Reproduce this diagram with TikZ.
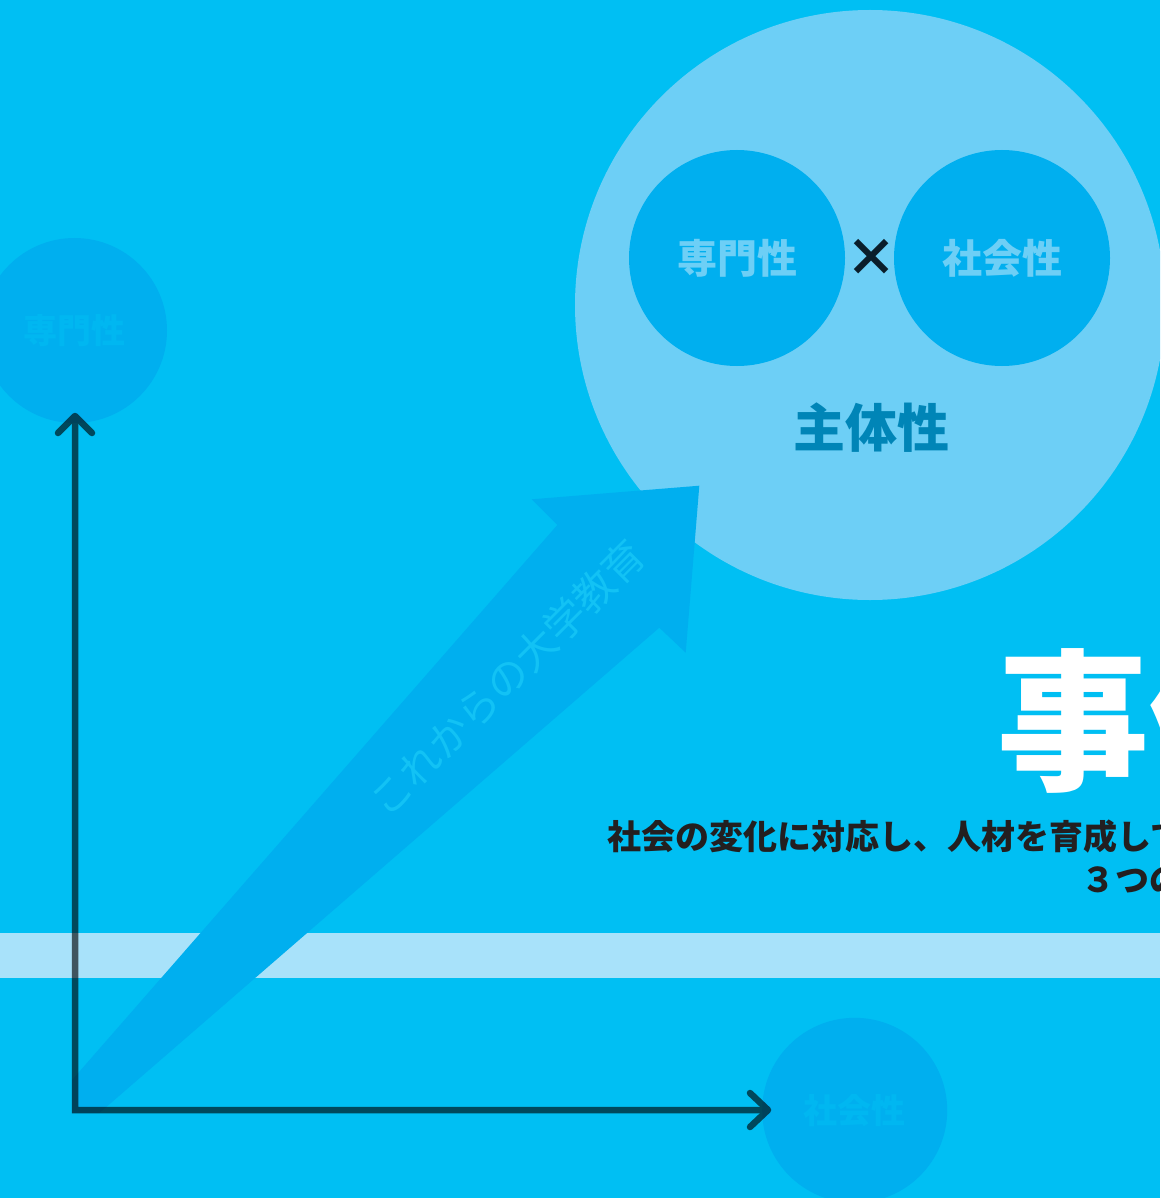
\documentclass[tikz,border=0pt]{standalone}
\usepackage{fontspec}
\newfontfamily\jp{Noto Sans CJK JP}
\definecolor{bgblue}{HTML}{00BFF3}
\definecolor{bigcirc}{HTML}{6DCFF6}
\definecolor{midblue}{HTML}{00AFEF}
\definecolor{fadetext}{HTML}{00B7F1}
\definecolor{arrowtext}{HTML}{12C2F5}
\definecolor{bandblue}{HTML}{A8E2FA}
\definecolor{mainteal}{HTML}{0085B7}
\definecolor{crossdark}{HTML}{0A1E2B}
\definecolor{subdark}{HTML}{231F20}
\begin{document}
\begin{tikzpicture}[x=1pt,y=-1pt,
  innercirc/.style={circle, fill=midblue, inner sep=0pt, minimum size=216pt,
    text=bigcirc, font=\jp\bfseries\fontsize{40}{46}\selectfont},
  fadecirc/.style={circle, fill=midblue, inner sep=0pt, minimum size=185pt,
    text=fadetext, font=\jp\bfseries\fontsize{34}{40}\selectfont},
  axisline/.style={draw=black, line width=6.5pt},
  chevron/.style={draw=black, line width=6.5pt, line cap=round, line join=round},
  subtext/.style={anchor=base west, inner sep=0pt, text=subdark,
    font=\jp\bfseries\fontsize{34}{40}\selectfont}]
\useasboundingbox (0,0) rectangle (1160,1198);
\clip (0,0) rectangle (1160,1198);
\fill[bgblue] (0,0) rectangle (1160,1198);
% big circle
\node (big) [circle, fill=bigcirc, inner sep=0pt, minimum size=590pt] at (870,305) {};
\node (sen) [innercirc] at (737,258) {専門性};
\node (sha) [innercirc] at (1002,258) {社会性};
\node (times) [text=crossdark, font=\jp\bfseries\fontsize{52}{60}\selectfont, inner sep=0pt] at (871,258) {×};
\node (shutai) [text=mainteal, font=\jp\bfseries\fontsize{52}{60}\selectfont, inner sep=0pt] at (871,428) {主体性};
% band
\fill[bandblue] (0,933) rectangle (1160,978);
% big arrow
\fill[midblue] (72,1080) -- (557.3,525) -- (531.7,499.3) -- (699.3,485.7)
  -- (685.7,652.7) -- (659.3,627.7) -- (99.4,1113) -- (72,1113) -- cycle;
\node (edu) [rotate=45, text=arrowtext, font=\jp\fontsize{41}{46}\selectfont, inner sep=0pt] at (507,678) {これからの大学教育};
% faded circles
\node (senS) [fadecirc] at (74.5,330.5) {専門性};
\node (shaS) [fadecirc] at (854.7,1110.3) {社会性};
% title and subtitle
\node (title) [anchor=base west, inner sep=0pt, text=white, font=\jp\bfseries\fontsize{152}{160}\selectfont] at (997,778) {事例};
\node (sub1) [subtext] at (607,849) {社会の変化に対応し、人材を育成して};
\node (sub2) [subtext] at (1081,892) {３つの};
% axes
\coordinate (O) at (75,1110);
\coordinate (Ytip) at (75,416);
\coordinate (Xtip) at (768,1110);
\begin{scope}[transparency group, opacity=0.62]
  \draw[axisline] (Ytip) -- (O) -- (Xtip);
  \draw[chevron] ([shift={(-17,17)}]Ytip) -- (Ytip) -- ([shift={(17,17)}]Ytip);
  \draw[chevron] ([shift={(-18,-17)}]Xtip) -- (Xtip) -- ([shift={(-18,17)}]Xtip);
\end{scope}
\end{tikzpicture}
\end{document}
